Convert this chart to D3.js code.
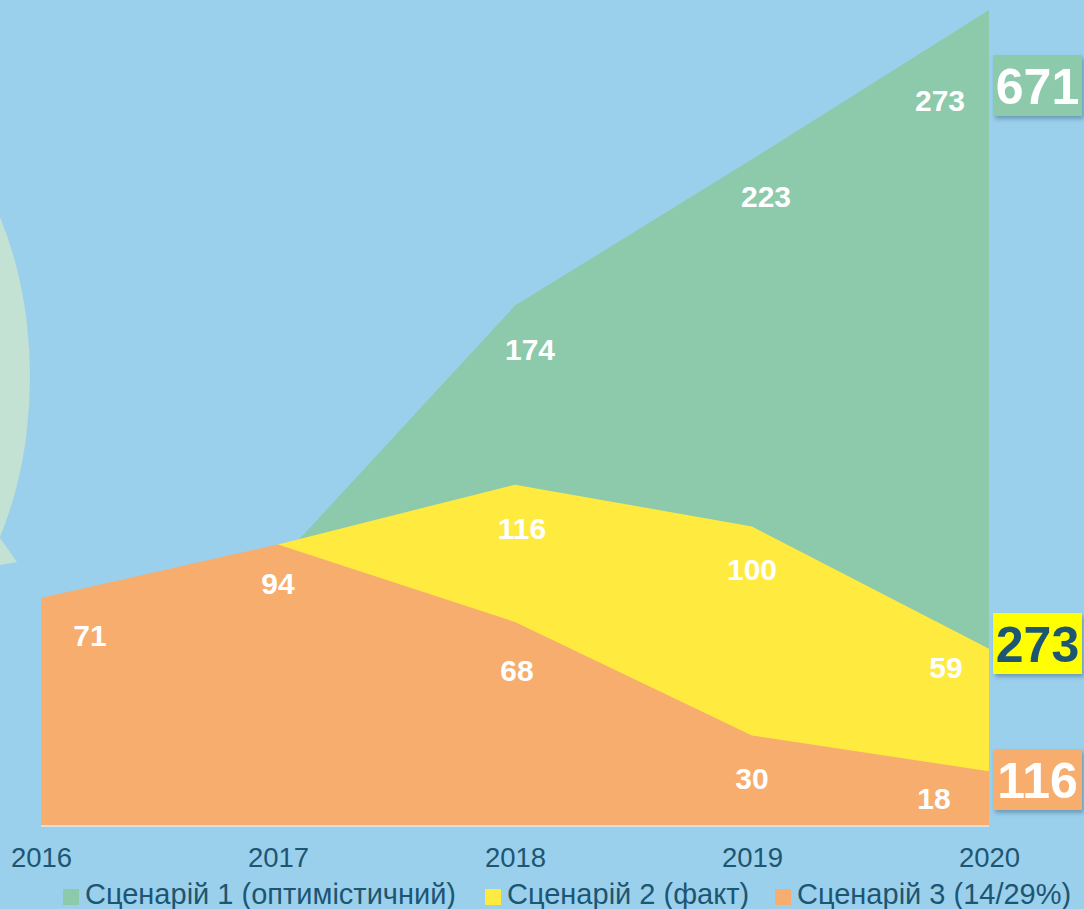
<!DOCTYPE html>
<html>
<head>
<meta charset="utf-8">
<script src="https://cdn.jsdelivr.net/npm/d3@7"></script>
<style>
  html, body { margin: 0; padding: 0; background: #9bd0ec; }
  svg { display: block; font-family: "Liberation Sans", Arial, sans-serif; }
</style>
</head>
<body>
<div id="chart"></div>
<script>
const years = ["2016", "2017", "2018", "2019", "2020"];
// drawn values (area heights); null = no point
const optimistic = [null, 88, 174, 223, 273];
const fact = [null, 94, 114, 100, 59];
const pessimistic = [76, 94, 68, 30, 18];
// printed labels
const optimisticLabels = [null, null, "174", "223", "273"];
const factLabels = [null, null, "116", "100", "59"];
const pessimisticLabels = ["71", "94", "68", "30", "18"];
const seriesNames = ["Сценарій 1 (оптимістичний)", "Сценарій 2 (факт)", "Сценарій 3 (14/29%)"];
const totals = ["671", "273", "116"];

const colors = ["#8dc9ab", "#ffeb3f", "#f6ad6e"];
const textDark = "#1d5672";

const width = 1084, height = 909;
const svg = d3.select("#chart").append("svg")
    .attr("width", width)
    .attr("height", height);

// background decoration (speech bubble on the left)
svg.append("ellipse")
    .attr("cx", -150).attr("cy", 377)
    .attr("rx", 180).attr("ry", 289)
    .attr("fill", "#c3e2d3");
svg.append("path")
    .attr("d", "M0,538 L17,562 L0,565 Z")
    .attr("fill", "#c3e2d3");

const x = d3.scalePoint()
    .domain(years)
    .range([41, 989]);

const y = d3.scaleLinear()
    .domain([0, 273])
    .range([825, 10]);

const area = d3.area()
    .defined(d => d.v != null)
    .x(d => x(d.year))
    .y0(y(0))
    .y1(d => y(d.v));

const series = [optimistic, fact, pessimistic];
const labels = [optimisticLabels, factLabels, pessimisticLabels];

series.forEach((vals, i) => {
    const pts = years.map((yr, j) => ({ year: yr, v: vals[j] }));
    svg.append("path")
        .datum(pts)
        .attr("d", area)
        .attr("fill", colors[i]);
});

// baseline
svg.append("line")
    .attr("x1", x(years[0])).attr("x2", x(years[years.length - 1]))
    .attr("y1", y(0) + 1).attr("y2", y(0) + 1)
    .attr("stroke", "#d9dfe3")
    .attr("stroke-width", 2);

// data labels (nudges relative to the point, in px)
const nudge = [
    [null, null, [15, 44], [14, 37], [-49, 90]],
    [null, null, [7, 44], [0, 43], [-43, 18]],
    [[49, 37], [0, 39], [2, 48], [0, 43], [-55, 27]]
];
labels.forEach((labs, i) => {
    labs.forEach((t, j) => {
        if (t == null) return;
        const vals = series[i];
        const [dx, dy] = nudge[i][j];
        svg.append("text")
            .attr("x", x(years[j]) + dx)
            .attr("y", y(vals[j]) + dy)
            .attr("dy", "0.36em")
            .attr("text-anchor", "middle")
            .attr("fill", "#fff")
            .attr("font-weight", "bold")
            .attr("font-size", 30)
            .text(t);
    });
});

// x axis labels
const xAxis = svg.append("g")
    .attr("transform", `translate(0,${y(0)})`)
    .call(d3.axisBottom(x).tickSize(0).tickPadding(22));
xAxis.select(".domain").remove();
xAxis.selectAll("text")
    .attr("font-size", 27.5)
    .attr("font-family", "Liberation Sans, Arial, sans-serif")
    .attr("fill", textDark);

// legend
const legendX = [63, 485, 775];
const legend = svg.append("g");
seriesNames.forEach((name, i) => {
    legend.append("rect")
        .attr("x", legendX[i]).attr("y", 889)
        .attr("width", 16).attr("height", 16)
        .attr("fill", colors[i]);
    legend.append("text")
        .attr("x", legendX[i] + 22).attr("y", 904)
        .attr("font-size", 29)
        .attr("fill", textDark)
        .text(name);
});

// total boxes on the right
const defs = svg.append("defs");
const f = defs.append("filter").attr("id", "shadow")
    .attr("x", "-20%").attr("y", "-20%").attr("width", "150%").attr("height", "150%");
f.append("feDropShadow")
    .attr("dx", 2).attr("dy", 3).attr("stdDeviation", 2)
    .attr("flood-color", "#2a5a7a").attr("flood-opacity", 0.45);

const boxY = [55, 613, 749];
const boxFill = [colors[0], "#ffff00", colors[2]];
const boxText = ["#fff", textDark, "#fff"];
totals.forEach((t, i) => {
    svg.append("rect")
        .attr("x", 993).attr("y", boxY[i])
        .attr("width", 89).attr("height", 61)
        .attr("fill", boxFill[i])
        .attr("filter", "url(#shadow)");
    svg.append("text")
        .attr("x", 1037.5).attr("y", boxY[i] + 30.5)
        .attr("dy", "0.36em")
        .attr("text-anchor", "middle")
        .attr("font-weight", "bold")
        .attr("font-size", 50)
        .attr("fill", boxText[i])
        .text(t);
});
</script>
</body>
</html>
